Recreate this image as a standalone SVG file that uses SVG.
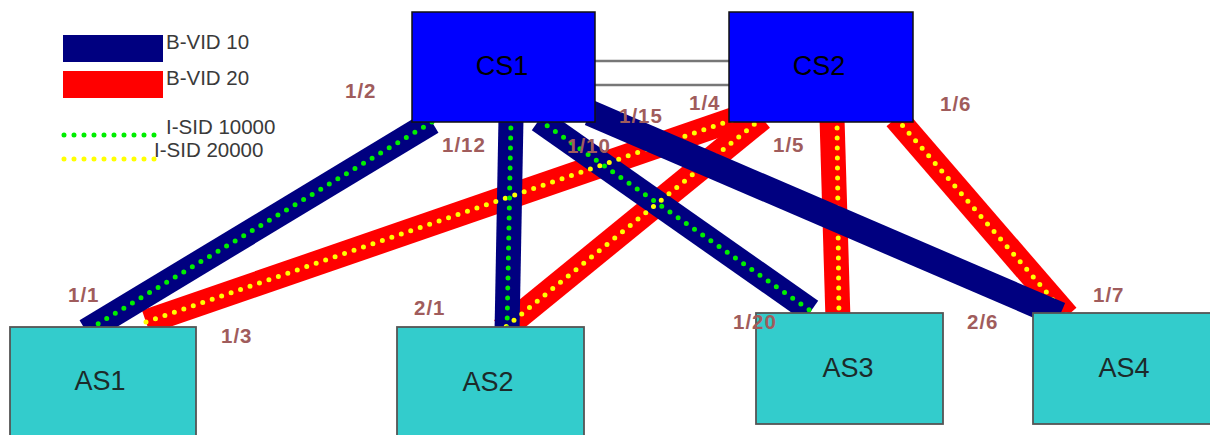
<svg xmlns="http://www.w3.org/2000/svg" width="1210" height="435" viewBox="0 0 1210 435">
<style>
.navy{stroke:#000080;stroke-width:25;fill:none;stroke-linecap:butt}
.red{stroke:#FF0000;stroke-width:25;fill:none;stroke-linecap:butt}
.gdot{stroke:#00EE00;stroke-width:5;stroke-dasharray:0 10;stroke-linecap:round;fill:none}
.ydot{stroke:#FFFF00;stroke-width:5;stroke-dasharray:0 10;stroke-linecap:round;fill:none}
.trunk{stroke:#777;stroke-width:2.5;fill:none}
.cs{fill:#0000FF;stroke:#111;stroke-width:1.5}
.as{fill:#33CCCC;stroke:#555;stroke-width:1.8}
.nl{font-family:"Liberation Sans",Arial,sans-serif;font-size:27px;text-anchor:middle}
.port{font-family:"Liberation Sans",Arial,sans-serif;font-size:20.5px;font-weight:bold;fill:#A05C5C;letter-spacing:1px}
.leg{font-family:"Liberation Sans",Arial,sans-serif;font-size:20.5px;fill:#3a3a3a}
</style>
<rect width="1210" height="435" fill="#FFFFFF"/>
<g id="legend">
<rect x="63" y="35" width="100" height="27" fill="#000080"/>
<rect x="63" y="71" width="100" height="27" fill="#FF0000"/>
<line x1="64" y1="135" x2="160" y2="135" class="gdot"/>
<line x1="64" y1="159" x2="160" y2="159" class="ydot"/>
<text x="166" y="49" class="leg">B-VID 10</text>
<text x="166" y="85" class="leg">B-VID 20</text>
<text x="166" y="134" class="leg">I-SID 10000</text>
<text x="154" y="157" class="leg">I-SID 20000</text>
</g>
<g id="connectors">
<line x1="146" y1="322" x2="741" y2="117" class="red"/>
<line x1="762" y1="118" x2="502" y2="330" class="red"/>
<line x1="832" y1="118" x2="838" y2="320" class="red"/>
<line x1="896" y1="118" x2="1067" y2="316" class="red"/>
<line x1="432" y1="122" x2="86" y2="331" class="navy"/>
<line x1="511" y1="118" x2="507" y2="332" class="navy"/>
<line x1="539" y1="120" x2="811" y2="311" class="navy"/>
<line x1="146" y1="322" x2="741" y2="117" class="ydot"/>
<line x1="762" y1="118" x2="502" y2="330" class="ydot"/>
<line x1="837" y1="118" x2="839" y2="320" class="ydot"/>
<line x1="896" y1="118" x2="1067" y2="316" class="ydot"/>
<line x1="432" y1="122" x2="86" y2="331" class="gdot"/>
<line x1="511" y1="118" x2="507" y2="332" class="gdot"/>
<line x1="539" y1="120" x2="811" y2="311" class="gdot"/>
<line x1="590" y1="113" x2="1060" y2="315" class="navy" style="stroke-width:26"/>
<line x1="595" y1="61" x2="729" y2="61" class="trunk"/>
<line x1="595" y1="85" x2="729" y2="85" class="trunk"/>
</g>
<g id="CS1"><rect x="412" y="12" width="183" height="110" class="cs"/><text x="502" y="75" class="nl" fill="#000">CS1</text></g>
<g id="CS2"><rect x="729" y="12" width="184" height="110" class="cs"/><text x="819" y="75" class="nl" fill="#000">CS2</text></g>
<g id="AS1"><rect x="10" y="327" width="186" height="120" class="as"/><text x="100" y="390" class="nl" fill="#1c2a2a">AS1</text></g>
<g id="AS2"><rect x="397" y="327" width="187" height="120" class="as"/><text x="488" y="391" class="nl" fill="#1c2a2a">AS2</text></g>
<g id="AS3"><rect x="756" y="313" width="187" height="111" class="as"/><text x="848" y="377" class="nl" fill="#1c2a2a">AS3</text></g>
<g id="AS4"><rect x="1033" y="313" width="186" height="111" class="as"/><text x="1124" y="377" class="nl" fill="#1c2a2a">AS4</text></g>
<g id="ports">
<text x="345" y="98" class="port">1/2</text>
<text x="442" y="152" class="port">1/12</text>
<text x="567" y="153" class="port">1/10</text>
<text x="619" y="123" class="port">1/15</text>
<text x="689" y="110" class="port">1/4</text>
<text x="773" y="152" class="port">1/5</text>
<text x="940" y="111" class="port">1/6</text>
<text x="1093" y="302" class="port">1/7</text>
<text x="68" y="302" class="port">1/1</text>
<text x="221" y="343" class="port">1/3</text>
<text x="414" y="315" class="port">2/1</text>
<text x="733" y="329" class="port">1/20</text>
<text x="967" y="329" class="port">2/6</text>
</g>
</svg>
